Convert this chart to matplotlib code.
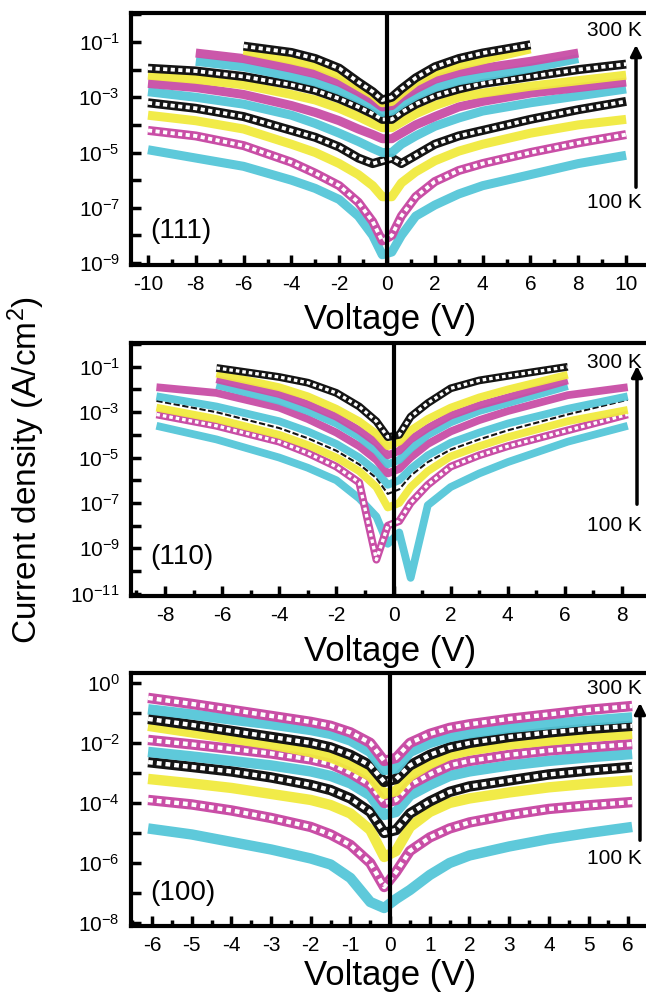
"""
Три панели J-V (111), (110), (100) в логарифмическом масштабе
"""
import numpy as np
import matplotlib
matplotlib.use("Agg")
import matplotlib.pyplot as plt
from matplotlib.ticker import NullLocator

plt.rcParams['font.family'] = ['Liberation Sans', 'DejaVu Sans']
plt.rcParams['mathtext.fontset'] = 'custom'
plt.rcParams['mathtext.rm'] = 'Liberation Sans'
plt.rcParams['mathtext.it'] = 'Liberation Sans:italic'
plt.rcParams['axes.unicode_minus'] = False

nan = np.nan

CYAN = '#55c6d8'
MAGENTA = '#c94ea6'
YELLOW = '#f1ea3e'
BLACK = '#151515'

# ---- (111): напряжение и log10(J) по сериям, снизу (100 K) вверх (300 K)
v_111 = [-10, -8, -6, -4, -3, -2, -1.2, -0.6, -0.2, 0.2, 0.6, 1.2, 2, 3, 4, 6, 8, 10]
logj_111 = [
    [-4.9, -5.2, -5.5, -6.0, -6.3, -6.7, -7.3, -8.0, -8.7, -8.6, -8.0, -7.3, -6.9, -6.5, -6.2, -5.8, -5.4, -5.1],
    [-4.2, -4.4, -4.75, -5.35, -5.75, -6.2, -6.8, -7.5, -8.2, -8.0, -7.3, -6.6, -6.05, -5.65, -5.4, -5.0, -4.65, -4.35],
    [-3.65, -3.85, -4.15, -4.7, -5.0, -5.4, -5.8, -6.2, -6.6, -6.6, -6.1, -5.7, -5.3, -4.95, -4.7, -4.3, -4.0, -3.8],
    [-3.2, -3.4, -3.7, -4.2, -4.45, -4.8, -5.2, -5.4, -5.3, -5.2, -5.4, -5.1, -4.7, -4.4, -4.2, -3.8, -3.45, -3.15],
    [-2.8, -3.0, -3.25, -3.65, -3.95, -4.3, -4.6, -4.85, -5.0, -5.0, -4.7, -4.4, -4.05, -3.75, -3.5, -3.2, -2.95, -2.7],
    [-2.5, -2.65, -2.9, -3.3, -3.55, -3.85, -4.15, -4.35, -4.5, -4.5, -4.3, -4.0, -3.7, -3.35, -3.15, -2.85, -2.65, -2.45],
    [-2.2, -2.35, -2.55, -2.9, -3.1, -3.4, -3.7, -3.95, -4.1, -4.1, -3.9, -3.6, -3.3, -3.0, -2.85, -2.6, -2.4, -2.2],
    [-1.95, -2.05, -2.25, -2.55, -2.75, -3.05, -3.35, -3.6, -3.8, -3.8, -3.55, -3.25, -2.95, -2.7, -2.5, -2.25, -2.0, -1.8],
    [nan, -1.7, -1.9, -2.25, -2.45, -2.75, -3.05, -3.3, -3.55, -3.5, -3.25, -2.95, -2.65, -2.4, -2.25, -1.95, -1.6, nan],
    [nan, -1.4, -1.6, -1.95, -2.15, -2.45, -2.8, -3.1, -3.35, -3.3, -3.0, -2.7, -2.35, -2.1, -1.95, -1.7, -1.4, nan],
    [nan, nan, -1.3, -1.65, -1.85, -2.2, -2.6, -2.9, -3.2, -3.15, -2.85, -2.45, -2.1, -1.85, -1.65, -1.25, nan, nan],
    [nan, nan, -1.15, -1.38, -1.6, -1.95, -2.45, -2.8, -3.1, -3.0, -2.7, -2.3, -1.9, -1.6, -1.4, -1.1, nan, nan],
]
colors_111 = [CYAN, MAGENTA, YELLOW, BLACK] * 3
kinds_111 = ['band', 'open', 'band', 'open', 'band', 'band', 'band', 'open', 'band', 'band', 'band', 'open']

# ---- (110)
v_110 = [-8.3, -6.2, -4, -3, -2, -1.2, -0.6, -0.2, 0.2, 0.6, 1.2, 2, 3, 4, 6.1, 8.2]
logj_110 = [
    [-3.6, -4.2, -5.0, -5.45, -6.0, -6.8, -7.6, -8.8, -8.3, -10.3, -7.1, -6.3, -5.7, -5.2, -4.3, -3.6],
    [-3.1, -3.6, -4.3, -4.8, -5.4, -6.1, -9.5, -8.0, -7.8, -7.0, -6.2, -5.4, -4.9, -4.5, -3.8, -3.1],
    [-2.8, -3.3, -4.0, -4.45, -5.0, -5.6, -6.3, -7.2, -7.0, -6.3, -5.6, -4.95, -4.5, -4.1, -3.4, -2.9],
    [-2.5, -3.0, -3.7, -4.15, -4.7, -5.3, -5.9, -6.6, -6.4, -5.8, -5.2, -4.65, -4.2, -3.8, -3.1, -2.45],
    [-2.3, -2.75, -3.4, -3.85, -4.4, -5.0, -5.6, -6.2, -6.0, -5.5, -4.9, -4.35, -3.9, -3.5, -2.85, -2.3],
    [-1.9, -2.15, -2.8, -3.3, -3.9, -4.5, -5.1, -5.7, -5.5, -5.0, -4.4, -3.85, -3.35, -2.95, -2.25, -1.9],
    [nan, -1.8, -2.5, -2.95, -3.5, -4.1, -4.7, -5.3, -5.1, -4.6, -4.0, -3.45, -2.95, -2.6, -1.85, nan],
    [nan, -1.55, -2.2, -2.65, -3.2, -3.8, -4.35, -4.9, -4.7, -4.2, -3.7, -3.15, -2.7, -2.35, -1.6, nan],
    [nan, -1.3, -1.9, -2.3, -2.85, -3.4, -3.95, -4.5, -4.3, -3.8, -3.3, -2.8, -2.35, -2.0, -1.35, nan],
    [nan, -1.05, -1.45, -1.7, -2.15, -2.75, -3.4, -4.1, -4.0, -3.2, -2.6, -1.95, -1.6, -1.4, -1.0, nan],
]
colors_110 = [CYAN, MAGENTA, YELLOW, BLACK, CYAN, MAGENTA, CYAN, MAGENTA, YELLOW, BLACK]
kinds_110 = ['band', 'open', 'band', 'thin', 'band', 'band', 'band', 'band', 'band', 'open']

# ---- (100)
v_100 = [-6.1, -5, -4, -3, -2, -1.5, -1, -0.5, -0.15, 0.15, 0.5, 1, 1.5, 2, 3, 4, 5, 6.1]
logj_100 = [
    [-4.85, -5.05, -5.3, -5.55, -5.85, -6.05, -6.5, -7.3, -7.5, -7.2, -6.9, -6.4, -6.0, -5.75, -5.45, -5.2, -5.0, -4.8],
    [-3.9, -4.05, -4.25, -4.5, -4.8, -5.05, -5.4, -6.0, -6.8, -6.3, -5.6, -5.15, -4.85, -4.65, -4.4, -4.2, -4.08, -3.97],
    [-3.2, -3.35, -3.5, -3.7, -3.9, -4.07, -4.35, -4.9, -5.8, -5.6, -4.8, -4.3, -4.0, -3.85, -3.65, -3.48, -3.36, -3.25],
    [-2.64, -2.8, -2.95, -3.15, -3.4, -3.57, -3.85, -4.3, -5.0, -4.9, -4.35, -3.95, -3.63, -3.45, -3.25, -3.05, -2.92, -2.8],
    [-2.3, -2.45, -2.6, -2.75, -2.95, -3.1, -3.35, -3.75, -4.4, -4.3, -3.75, -3.4, -3.1, -2.95, -2.75, -2.6, -2.48, -2.37],
    [-1.9, -2.05, -2.2, -2.35, -2.55, -2.7, -3.0, -3.4, -4.0, -3.9, -3.4, -3.05, -2.75, -2.6, -2.4, -2.25, -2.15, -2.04],
    [-1.43, -1.65, -1.85, -2.05, -2.3, -2.48, -2.75, -3.1, -3.7, -3.6, -3.1, -2.7, -2.4, -2.25, -2.05, -1.92, -1.8, -1.7],
    [-1.2, -1.4, -1.6, -1.8, -2.0, -2.15, -2.4, -2.75, -3.3, -3.2, -2.75, -2.4, -2.15, -2.0, -1.8, -1.65, -1.53, -1.43],
    [-0.88, -1.05, -1.22, -1.38, -1.57, -1.7, -1.92, -2.3, -2.9, -2.85, -2.3, -2.0, -1.8, -1.68, -1.5, -1.38, -1.26, -1.15],
    [-0.5, -0.7, -0.9, -1.1, -1.3, -1.43, -1.65, -2.0, -2.6, -2.5, -2.0, -1.7, -1.5, -1.38, -1.2, -1.05, -0.9, -0.77],
]
colors_100 = [CYAN, MAGENTA, YELLOW, BLACK] * 2 + [CYAN, MAGENTA]
kinds_100 = ['band', 'open', 'band', 'open', 'band', 'open', 'band', 'open', 'band', 'open']


def draw_series(ax, v, logj, color, kind, lw):
    """Рисует одну серию в виде плотной полосы точек"""
    j = 10.0 ** np.asarray(logj, dtype=float)
    if kind == 'band':
        ax.plot(v, j, color=color, lw=lw, alpha=0.95, solid_capstyle='butt', zorder=2)
    elif kind == 'open':
        # полые маркеры: цветная полоса и белая пунктирная середина
        ax.plot(v, j, color=color, lw=lw, solid_capstyle='butt', zorder=2)
        ax.plot(v, j, color='white', lw=lw * 0.42, dashes=(1.1, 0.9),
                dash_capstyle='butt', zorder=2)
    else:
        ax.plot(v, j, color=color, lw=1.5, dashes=(3, 1.2), zorder=2)


def setup_axes(ax, xlim, ylim_exp, xmajor, xminor, y_decades, y_labelled):
    """Оформление осей как в оригинале"""
    ax.set_yscale('log')
    ax.set_xlim(xlim)
    ax.set_ylim(10.0 ** ylim_exp[0], 10.0 ** ylim_exp[1])
    ax.set_xticks(xmajor)
    ax.set_xticklabels([str(x) for x in xmajor])
    ax.set_xticks(xminor, minor=True)
    ax.set_yticks([10.0 ** d for d in y_decades])
    ax.set_yticklabels([r'$\mathregular{10^{%d}}$' % d if d in y_labelled else '' for d in y_decades])
    ax.yaxis.set_minor_locator(NullLocator())
    ax.tick_params(which='both', direction='in', top=False, right=False, width=2.5, labelsize=15)
    ax.tick_params(which='major', length=7)
    ax.tick_params(which='minor', length=4)
    ax.tick_params(axis='x', pad=7)
    ax.tick_params(axis='y', pad=8)
    for sp in ax.spines.values():
        sp.set_linewidth(3)
    ax.axvline(0, color='black', lw=3, zorder=5)


fig = plt.figure(figsize=(6.46, 9.97), dpi=100)

ax1 = fig.add_axes([0.2028, 0.7342, 0.8034, 0.2528])
ax2 = fig.add_axes([0.2028, 0.4022, 0.8034, 0.2538])
ax3 = fig.add_axes([0.2028, 0.0712, 0.8034, 0.2538])

for logj, c, k in zip(logj_111, colors_111, kinds_111):
    draw_series(ax1, v_111, logj, c, k, 6.5)
for logj, c, k in zip(logj_110, colors_110, kinds_110):
    draw_series(ax2, v_110, logj, c, k, 5.6)
for logj, c, k in zip(logj_100, colors_100, kinds_100):
    draw_series(ax3, v_100, logj, c, k, 7.5)

setup_axes(ax1, (-10.71, 11.0), (-9.07, 0.05), list(range(-10, 11, 2)), list(range(-9, 11, 2)),
           list(range(-9, 1)), [-1, -3, -5, -7, -9])
setup_axes(ax2, (-9.19, 8.98), (-11.1, 0.05), list(range(-8, 9, 2)), list(range(-9, 9, 2)),
           list(range(-11, 1)), [-1, -3, -5, -7, -9, -11])
setup_axes(ax3, (-6.53, 6.55), (-8.1, 0.33), list(range(-6, 7)), list(np.arange(-6.5, 6.6, 1.0)),
           list(range(-8, 1)), [0, -2, -4, -6, -8])

# подписи
fig.text(26 / 646, 1 - 470 / 997, 'Current density (A/cm$^2$)', rotation=90,
         ha='center', va='center', fontsize=24)
for yc in (320, 652, 975):
    fig.text(390 / 646, 1 - yc / 997, 'Voltage (V)', ha='center', va='center', fontsize=25)

for label, yc in (('(111)', 231), ('(110)', 557), ('(100)', 893)):
    fig.text(150 / 646, 1 - yc / 997, label, ha='left', va='center', fontsize=20)

# температуры и стрелки
for y_hi, y_lo in ((31, 202), (362, 525), (688, 858)):
    fig.text(642 / 646, 1 - y_hi / 997, '300 K', ha='right', va='center', fontsize=15)
    fig.text(642 / 646, 1 - y_lo / 997, '100 K', ha='right', va='center', fontsize=15)

for ax, x_a, y_top, y_bot in ((ax1, 636, 42, 190), (ax2, 637, 363, 507), (ax3, 640, 700, 843)):
    ax.annotate('', xy=(x_a / 646, 1 - y_top / 997), xytext=(x_a / 646, 1 - y_bot / 997),
                xycoords='figure fraction', textcoords='figure fraction', annotation_clip=False,
                arrowprops=dict(arrowstyle='-|>', lw=2.5, color='black', mutation_scale=16))

fig.savefig('out.png', dpi=100)
